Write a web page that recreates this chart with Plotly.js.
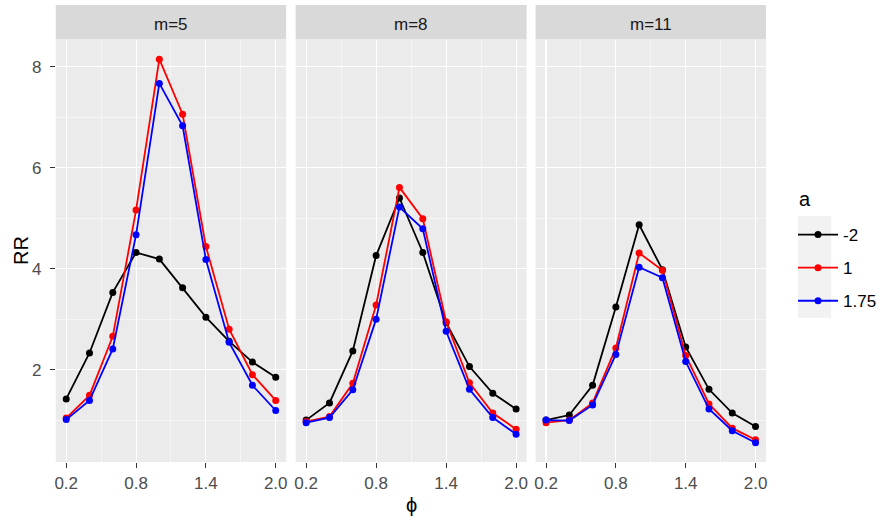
<!DOCTYPE html>
<html>
<head>
<meta charset="utf-8">
<script src="https://cdn.plot.ly/plotly-3.0.1.min.js"></script>
<style>html,body{margin:0;padding:0;background:#fff}#chart{width:882px;height:517px}</style>
</head>
<body>
<div id="chart"></div>
<script>
var phi = [0.2, 0.4, 0.6, 0.8, 1.0, 1.2, 1.4, 1.6, 1.8, 2.0];
var panels = ["m=5", "m=8", "m=11"];
var seriesNames = ["-2", "1", "1.75"];
var seriesColors = ["#000000", "#FF0000", "#0000FF"];

// m = 5
var m5_a_neg2 = [1.42, 2.33, 3.53, 4.32, 4.19, 3.62, 3.04, 2.56, 2.15, 1.85];
var m5_a_1    = [1.04, 1.49, 2.66, 5.16, 8.15, 7.06, 4.44, 2.80, 1.90, 1.39];
var m5_a_175  = [1.01, 1.39, 2.41, 4.67, 7.67, 6.83, 4.18, 2.54, 1.69, 1.19];
// m = 8
var m8_a_neg2 = [1.00, 1.34, 2.37, 4.26, 5.40, 4.32, 2.93, 2.06, 1.53, 1.22];
var m8_a_1    = [0.97, 1.07, 1.73, 3.28, 5.61, 4.99, 2.95, 1.74, 1.14, 0.82];
var m8_a_175  = [0.95, 1.05, 1.60, 3.00, 5.22, 4.79, 2.76, 1.61, 1.05, 0.72];
// m = 11
var m11_a_neg2 = [1.00, 1.10, 1.69, 3.24, 4.87, 3.98, 2.45, 1.61, 1.14, 0.875];
var m11_a_1    = [0.95, 1.00, 1.34, 2.43, 4.31, 3.97, 2.28, 1.32, 0.84, 0.61];
var m11_a_175  = [1.00, 0.99, 1.30, 2.30, 4.03, 3.82, 2.16, 1.22, 0.79, 0.55];

var xTicks = [0.2, 0.8, 1.4, 2.0];
var xTickText = ["0.2", "0.8", "1.4", "2.0"];
var xMinor = [0.5, 1.1, 1.7];
var yTicks = [2, 4, 6, 8];
var yMinor = [1, 3, 5, 7];

var data = [
  [m5_a_neg2, m5_a_1, m5_a_175],
  [m8_a_neg2, m8_a_1, m8_a_175],
  [m11_a_neg2, m11_a_1, m11_a_175]
];

var W = 882, H = 517;
var FONT = "Liberation Sans, Arial, sans-serif";
var xDomains = [[56/W, 287.5/W], [297/W, 529/W], [538/W, 769.5/W]];
var yDomain = [(H-462)/H, (H-40)/H];

var traces = [];
for (var p = 0; p < 3; p++) {
  for (var s = 0; s < 3; s++) {
    traces.push({
      x: phi, y: data[p][s], type: "scatter", mode: "lines+markers",
      name: seriesNames[s], legendgroup: "g" + s, showlegend: p === 0,
      line: {color: seriesColors[s], width: 1.8},
      marker: {color: seriesColors[s], size: 7},
      xaxis: p === 0 ? "x" : "x" + (p + 1),
      yaxis: p === 0 ? "y" : "y" + (p + 1)
    });
  }
}

var tickFont = {family: FONT, size: 17, color: "#4D4D4D"};
function xAxis(i) {
  return {
    domain: xDomains[i], range: [0.11, 2.09], anchor: i === 0 ? "y" : "y" + (i + 1),
    tickmode: "array", tickvals: xTicks, ticktext: xTickText,
    showgrid: true, gridcolor: "#FFFFFF", gridwidth: 1.1,
    minor: {tickmode: "array", tickvals: xMinor, showgrid: true, gridcolor: "#FFFFFF", gridwidth: 0.5, ticklen: 0},
    ticks: "outside", ticklen: 5, tickcolor: "#333333", tickwidth: 1, ticklabelstandoff: 1,
    tickfont: tickFont, zeroline: false, showline: false, fixedrange: true
  };
}
function yAxis(i) {
  return {
    domain: yDomain, range: [0.17, 8.53], anchor: i === 0 ? "x" : "x" + (i + 1),
    tickmode: "array", tickvals: yTicks, ticktext: yTicks.map(String),
    showticklabels: i === 0,
    showgrid: true, gridcolor: "#FFFFFF", gridwidth: 1.1,
    minor: {tickmode: "array", tickvals: yMinor, showgrid: true, gridcolor: "#FFFFFF", gridwidth: 0.5, ticklen: 0},
    ticks: i === 0 ? "outside" : "", ticklen: 5, tickcolor: "#333333", tickwidth: 1, ticklabelstandoff: 5,
    tickfont: tickFont, zeroline: false, showline: false, fixedrange: true
  };
}

var shapes = [];
var annotations = [];
for (var i = 0; i < 3; i++) {
  shapes.push({type: "rect", xref: "paper", yref: "paper", layer: "below",
    x0: xDomains[i][0], x1: xDomains[i][1], y0: yDomain[0], y1: yDomain[1],
    fillcolor: "#EBEBEB", line: {width: 0}});
  shapes.push({type: "rect", xref: "paper", yref: "paper", layer: "below",
    x0: xDomains[i][0], x1: xDomains[i][1], y0: (H-39.5)/H, y1: (H-5)/H,
    fillcolor: "#D9D9D9", line: {width: 0}});
  annotations.push({text: panels[i], xref: "paper", yref: "paper",
    x: (xDomains[i][0] + xDomains[i][1]) / 2, y: (H-24)/H, xanchor: "center", yanchor: "middle",
    showarrow: false, font: {family: FONT, size: 17, color: "#1A1A1A"}});
}
shapes.push({type: "rect", xref: "paper", yref: "paper", layer: "below",
  x0: 801.5/W, x1: 835/W, y0: (H-318)/H, y1: (H-216)/H,
  fillcolor: "#F2F2F2", line: {width: 0}});

annotations.push({text: "ϕ", xref: "paper", yref: "paper", x: 413/W, y: (H-505)/H,
  xanchor: "center", yanchor: "middle", showarrow: false,
  font: {family: FONT, size: 20, color: "#000000"}});
annotations.push({text: "RR", xref: "paper", yref: "paper", x: 21/W, y: (H-250)/H,
  xanchor: "center", yanchor: "middle", textangle: -90, showarrow: false,
  font: {family: FONT, size: 20, color: "#000000"}});
annotations.push({text: "a", xref: "paper", yref: "paper", x: 801/W, y: (H-199)/H,
  xanchor: "left", yanchor: "middle", showarrow: false,
  font: {family: FONT, size: 20, color: "#000000"}});

var layout = {
  width: W, height: H,
  margin: {l: 0, r: 0, t: 0, b: 0},
  paper_bgcolor: "#FFFFFF", plot_bgcolor: "rgba(0,0,0,0)",
  showlegend: true,
  legend: {x: 797/W, y: (H-217)/H, xanchor: "left", yanchor: "top",
    bgcolor: "rgba(0,0,0,0)", tracegroupgap: 8, itemwidth: 40,
    font: {family: FONT, size: 17, color: "#000000"}},
  xaxis: xAxis(0), xaxis2: xAxis(1), xaxis3: xAxis(2),
  yaxis: yAxis(0), yaxis2: yAxis(1), yaxis3: yAxis(2),
  shapes: shapes, annotations: annotations
};

Plotly.newPlot("chart", traces, layout, {displayModeBar: false, staticPlot: true});
</script>
</body>
</html>
